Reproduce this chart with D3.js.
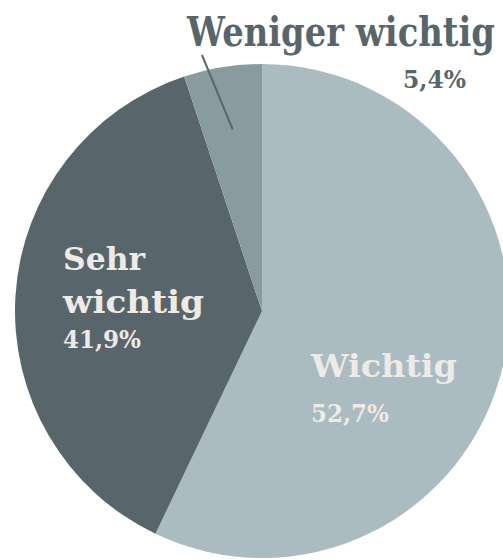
<!DOCTYPE html>
<html lang="de">
<head>
<meta charset="utf-8">
<title>Wichtigkeit</title>
<script src="https://d3js.org/d3.v7.min.js"></script>
<style>
  html, body { margin: 0; padding: 0; background: #fff; overflow: hidden; }
  svg { display: block; }
  text { font-family: "DejaVu Serif", serif; font-weight: bold; }
</style>
</head>
<body>
<svg width="503" height="560"></svg>
<script>
// categories, printed shares and the slice sizes as drawn in the original
const categories = ["Wichtig", "Sehr wichtig", "Weniger wichtig"];
const shareLabels = ["52,7%", "41,9%", "5,4%"];
const sliceShares = [57.1, 37.8, 5.1];
const colors = ["#aabbc1", "#58656a", "#8a9ba0"];

const svg = d3.select("svg"),
    cx = 262, cy = 311, radius = 247;

const pie = d3.pie().sort(null).value(d => d);
const arc = d3.arc().innerRadius(0).outerRadius(radius);
const arcs = pie(sliceShares);

const g = svg.append("g").attr("transform", "translate(" + cx + "," + cy + ")");

g.selectAll("path")
    .data(arcs)
    .join("path")
    .attr("d", arc)
    .attr("fill", (d, i) => colors[i]);

const dark = "#58666b", light = "#eeeae5";

// text squeezed horizontally to the width it has in the original
function label(x, y, size, width, fill, str) {
    const t = svg.append("text").attr("font-size", size).attr("fill", fill).text(str);
    const k = width / t.node().getComputedTextLength();
    t.attr("transform", "translate(" + x + "," + y + ") scale(" + k + ",1)");
    return t;
}

// Weniger wichtig (outside, top right)
label(187, 46, 41, 308, dark, categories[2]);
label(403, 88, 24, 63, dark, shareLabels[2]);

// leader line from inside the small slice up to the label
const small = arcs[2];
const mid = (small.startAngle + small.endAngle) / 2;
svg.append("line")
    .attr("x1", cx + Math.sin(mid) * radius * 0.745)
    .attr("y1", cy - Math.cos(mid) * radius * 0.745)
    .attr("x2", 202).attr("y2", 55)
    .attr("stroke", dark)
    .attr("stroke-width", 2);

// Sehr wichtig
label(63, 270, 31, 82, light, "Sehr");
label(63, 313, 31, 141, light, "wichtig");
label(63, 348, 24, 78, light, shareLabels[1]);

// Wichtig
label(311, 377, 32, 146, light, categories[0]);
label(311, 422, 24, 78, light, shareLabels[0]);
</script>
</body>
</html>
